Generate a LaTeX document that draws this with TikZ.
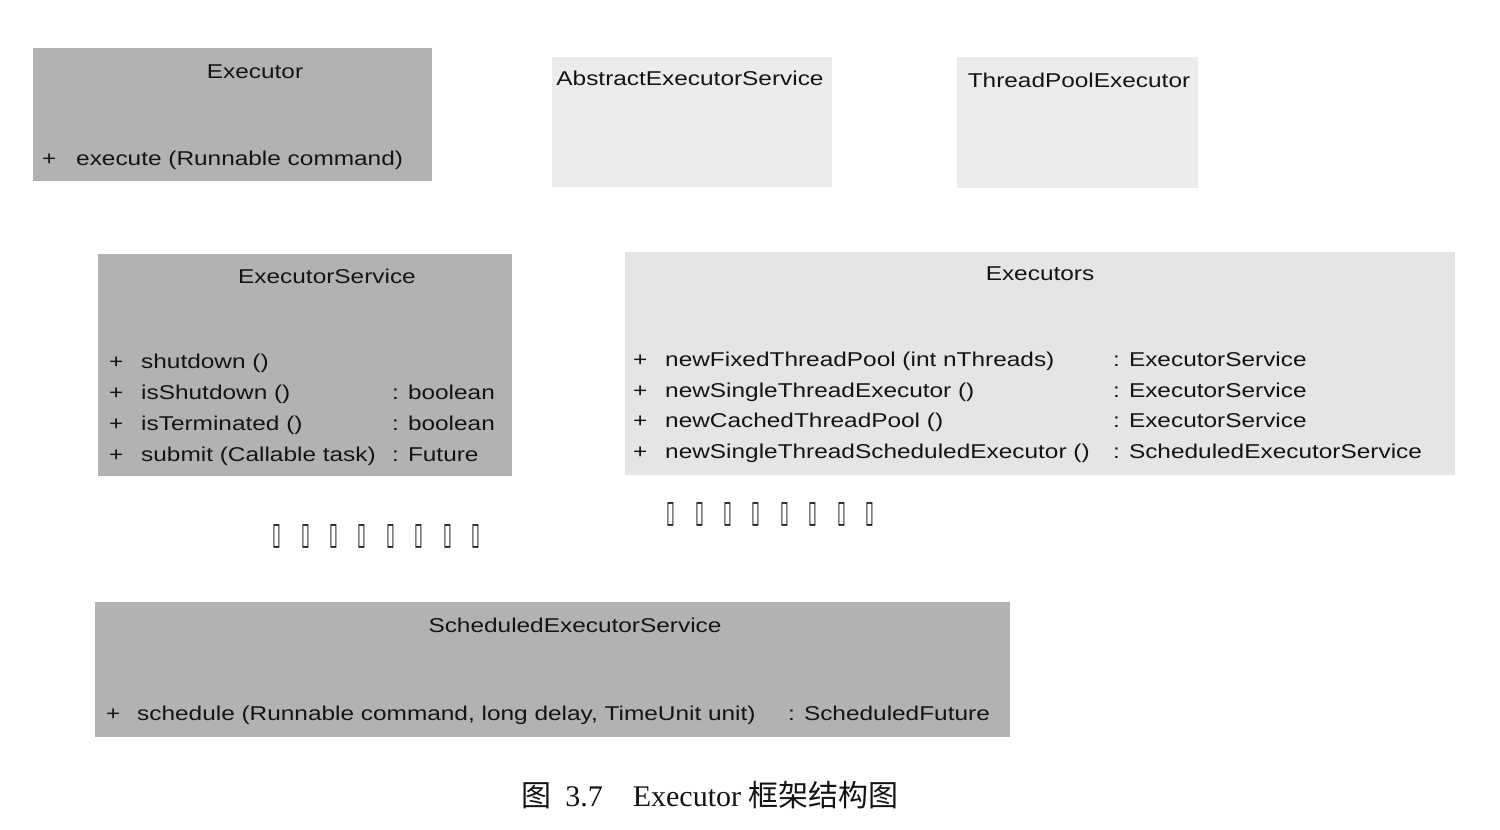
\documentclass[tikz,border=0pt]{standalone}
\usepackage{fontspec}
\setmainfont{Liberation Serif}
\newfontfamily\umlfont[FakeStretch=1.22]{Liberation Sans}
\newfontfamily\cjkfont{Noto Sans CJK SC}
\newfontfamily\tofufont{DejaVu Sans}
\usepackage{tikz}
\usetikzlibrary{positioning}

\definecolor{boxgray}{RGB}{178,178,178}
\definecolor{palegray}{RGB}{236,236,236}
\definecolor{inkgray}{RGB}{20,20,20}
\newcommand{\tofuglyph}{\scalebox{0.8}[1.55]{\tofufont ▯}}

\begin{document}
\begin{tikzpicture}[
            x=1pt, y=-1pt,
            umlbox/.style={rectangle, fill=boxgray, inner sep=0pt},
            palebox/.style={rectangle, fill=palegray, inner sep=0pt},
            title/.style={anchor=base, inner sep=0pt, text=inkgray, font=\umlfont\fontsize{20}{24}\selectfont},
            member/.style={anchor=base west, inner sep=0pt, text=inkgray, font=\umlfont\fontsize{20}{24}\selectfont},
            tofu/.style={inner sep=0pt, text=inkgray, font=\fontsize{20}{24}\selectfont}
        ]
            \useasboundingbox (0,0) rectangle (1500,830);

            % Executor
            \node[umlbox, minimum width=399, minimum height=133] (executor) at (232.5,114.5) {};
            \node[title] (executor-name) at (255,78) {Executor};
            \node[member] at (42,165) {+};
            \node[member] at (76,165) {execute (Runnable command)};

            % AbstractExecutorService, ThreadPoolExecutor
            \node[palebox, minimum width=280, minimum height=130] (abstract) at (692,122) {};
            \node[title] (abstract-name) at (690,85) {AbstractExecutorService};
            \node[palebox, minimum width=241, minimum height=131] (pool) at (1077.5,122.5) {};
            \node[title] (pool-name) at (1079,87) {ThreadPoolExecutor};

            % ExecutorService
            \node[umlbox, minimum width=414, minimum height=222] (service) at (305,365) {};
            \node[title] (service-name) at (327,283) {ExecutorService};
            \node[member] at (109,368) {+};
            \node[member] at (141,368) {shutdown ()};
            \node[member] at (109,399) {+};
            \node[member] at (141,399) {isShutdown ()};
            \node[member] at (392,399) {: boolean};
            \node[member] at (109,430) {+};
            \node[member] at (141,430) {isTerminated ()};
            \node[member] at (392,430) {: boolean};
            \node[member] at (109,461) {+};
            \node[member] at (141,461) {submit (Callable task)};
            \node[member] at (392,461) {: Future};

            % Executors
            \node[palebox, fill=palegray!97!black, minimum width=830, minimum height=223] (executors) at (1040,363.5) {};
            \node[title] (executors-name) at (1040,280) {Executors};
            \node[member] at (633,366) {+};
            \node[member] at (665,366) {newFixedThreadPool (int nThreads)};
            \node[member] at (1113,366) {: ExecutorService};
            \node[member] at (633,397) {+};
            \node[member] at (665,397) {newSingleThreadExecutor ()};
            \node[member] at (1113,397) {: ExecutorService};
            \node[member] at (633,427) {+};
            \node[member] at (665,427) {newCachedThreadPool ()};
            \node[member] at (1113,427) {: ExecutorService};
            \node[member] at (633,458) {+};
            \node[member] at (665,458) {newSingleThreadScheduledExecutor ()};
            \node[member] at (1113,458) {: ScheduledExecutorService};

            % unreadable glyphs
            \foreach \i in {0,...,7} {
                \node[tofu] (tofu-a\i) at (277+\i*28.4,536) {\tofuglyph};
                \node[tofu] (tofu-b\i) at (671+\i*28.4,514) {\tofuglyph};
            }

            % ScheduledExecutorService
            \node[umlbox, minimum width=915, minimum height=135] (scheduled) at (552.5,669.5) {};
            \node[title] (scheduled-name) at (575,632) {ScheduledExecutorService};
            \node[member] at (106,720) {+};
            \node[member] at (137,720) {schedule (Runnable command, long delay, TimeUnit unit)};
            \node[member] at (788,720) {: ScheduledFuture};

            % caption
            \node[anchor=base, inner sep=0pt, text=inkgray, font=\fontsize{30}{34}\selectfont] (caption) at (710,806)
                {{\cjkfont 图}\hspace{14pt}3.7\hspace{30pt}Executor {\cjkfont 框架结构图}};
        \end{tikzpicture}
\end{document}
